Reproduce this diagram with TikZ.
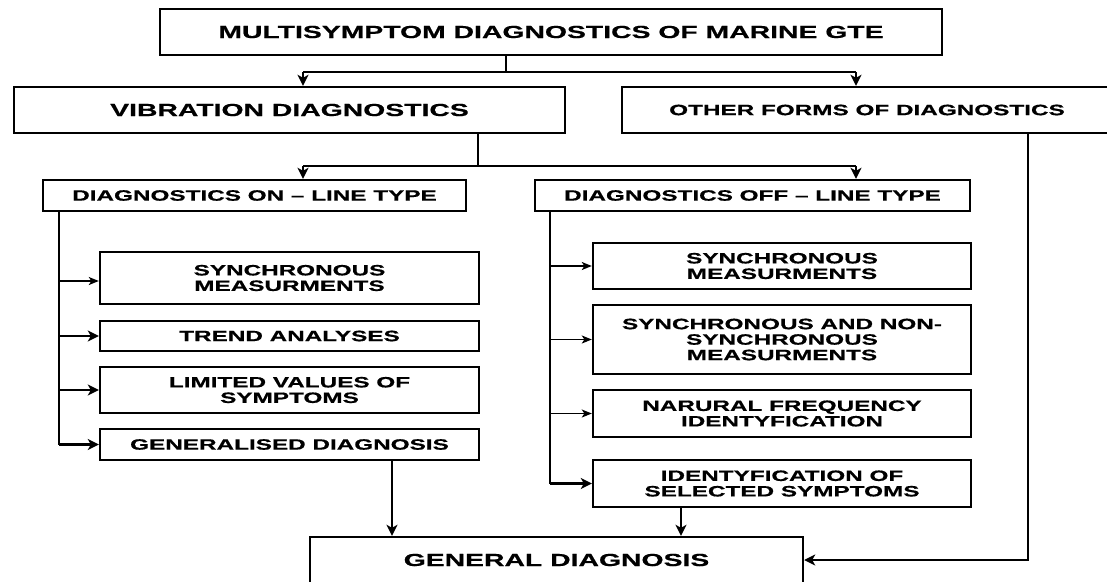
\documentclass[tikz,border=0pt]{standalone}
\usepackage{fontspec}
\setmainfont{Liberation Sans}[FakeStretch=1.62,FakeBold=0.6]
\usetikzlibrary{arrows.meta}
\tikzset{
  box/.style={draw, line width=2.4pt, rectangle, inner sep=0pt, align=center,
    font=\bfseries\fontsize{15}{15.5}\selectfont},
  bigtxt/.style={font=\bfseries\fontsize{17.5}{18}\selectfont},
  conn/.style={line width=2.8pt},
  arr/.style={line width=2.8pt, -{Stealth[length=11pt,width=11pt,inset=3pt]}},
  tarr/.style={line width=1.3pt, -{Stealth[length=10pt,width=8pt,inset=2.5pt]}}
}
\begin{document}
\begin{tikzpicture}[x=1pt,y=-1pt]
\useasboundingbox (0,0) rectangle (1107,581);
% boxes
\node[box,bigtxt,minimum width=782pt,minimum height=46pt] (top) at (551,32) {MULTISYMPTOM DIAGNOSTICS OF MARINE GTE};
\node[box,bigtxt,minimum width=551pt,minimum height=46pt] (vib) at (289.5,110) {VIBRATION DIAGNOSTICS};
\node[box,minimum width=490pt,minimum height=46pt] (other) at (867,110) {OTHER FORMS OF DIAGNOSTICS};
\node[box,minimum width=423pt,minimum height=31pt] (on) at (254.5,195.5) {DIAGNOSTICS ON -- LINE TYPE};
\node[box,minimum width=435pt,minimum height=31pt] (off) at (752.5,195.5) {DIAGNOSTICS OFF -- LINE TYPE};
\node[box,minimum width=379pt,minimum height=52pt] (l1) at (289.5,278) {SYNCHRONOUS\\MEASURMENTS};
\node[box,minimum width=379pt,minimum height=30pt] (l2) at (289.5,336) {TREND ANALYSES};
\node[box,minimum width=379pt,minimum height=46pt] (l3) at (289.5,390) {LIMITED VALUES OF\\SYMPTOMS};
\node[box,minimum width=379pt,minimum height=31pt] (l4) at (289.5,444.5) {GENERALISED DIAGNOSIS};
\node[box,minimum width=378pt,minimum height=46pt] (r1) at (782,266) {SYNCHRONOUS\\MEASURMENTS};
\node[box,minimum width=378pt,minimum height=69pt] (r2) at (782,339.5) {SYNCHRONOUS AND NON-\\SYNCHRONOUS\\MEASURMENTS};
\node[box,minimum width=378pt,minimum height=47pt] (r3) at (782,413.5) {NARURAL FREQUENCY\\IDENTYFICATION};
\node[box,minimum width=378pt,minimum height=47pt] (r4) at (782,483.5) {IDENTYFICATION OF\\SELECTED SYMPTOMS};
\node[box,bigtxt,minimum width=493pt,minimum height=46pt] (gen) at (556.5,560) {GENERAL DIAGNOSIS};
% junction coordinates
\coordinate (s1) at (506,72);
\coordinate (a1) at (303,72);
\coordinate (a2) at (856,72);
\coordinate (s2) at (478,166);
\coordinate (b1) at (303,166);
\coordinate (b2) at (856,166);
\coordinate (tl) at (59,0);
\coordinate (tr) at (550,0);
\coordinate (g1) at (392,0);
\coordinate (g2) at (681,0);
\coordinate (ox) at (1028,0);
% top level
\draw[conn] (top.south -| s1) -- (s1);
\draw[conn] (a1) -- (a2);
\draw[arr] (a1) -- (vib.north -| a1);
\draw[arr] (a2) -- (other.north -| a2);
% second level
\draw[conn] (vib.south -| s2) -- (s2);
\draw[conn] (b1) -- (b2);
\draw[arr] (b1) -- (on.north -| b1);
\draw[arr] (b2) -- (off.north -| b2);
% on-line trunk
\draw[conn] (on.south -| tl) -- (l4.west -| tl);
\draw[tarr] (tl |- 0,281) -- (l1.west |- 0,281);
\draw[arr] (tl |- l2.west) -- (l2.west);
\draw[arr] (tl |- l3.west) -- (l3.west);
\draw[arr] (tl |- l4.west) -- (l4.west);
% off-line trunk
\draw[conn] (off.south -| tr) -- (r4.west -| tr);
\draw[tarr] (tr |- r1.west) -- (r1.west);
\draw[tarr] (tr |- r2.west) -- (r2.west);
\draw[tarr] (tr |- r3.west) -- (r3.west);
\draw[arr] (tr |- r4.west) -- (r4.west);
% to general diagnosis
\draw[arr] (l4.south -| g1) -- (gen.north -| g1);
\draw[arr] (r4.south -| g2) -- (gen.north -| g2);
\draw[arr] (other.south -| ox) -- (ox |- gen.east) -- (gen.east);
\end{tikzpicture}
\end{document}
